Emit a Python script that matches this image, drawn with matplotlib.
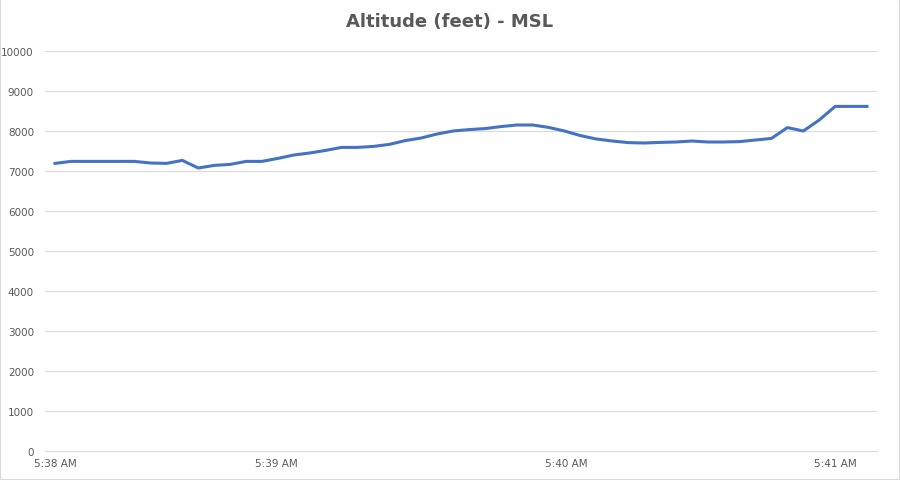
import matplotlib
matplotlib.use("Agg")
import matplotlib.pyplot as plt
from matplotlib.patches import Rectangle

altitude = [7190, 7240, 7240, 7240, 7240, 7240, 7200, 7190, 7265, 7075,
            7140, 7165, 7240, 7240, 7315, 7400, 7450, 7515, 7590, 7590,
            7615, 7665, 7760, 7825, 7925, 8000, 8035, 8060, 8110, 8150,
            8150, 8090, 8000, 7885, 7800, 7750, 7710, 7700, 7715, 7725,
            7750, 7725, 7725, 7735, 7775, 7815, 8085, 8000, 8275, 8615,
            8615, 8615]
tick_labels = ["5:38 AM", "5:39 AM", "5:40 AM", "5:41 AM"]
tick_pos = [0, 13.9, 32.1, 49.0]
yticks = list(range(0, 10001, 1000))

fig = plt.figure(figsize=(9, 4.81), dpi=100)
ax = fig.add_axes([45/900, 29/481, 832/900, 400/481])
x = list(range(len(altitude)))
ax.plot(x, altitude, color="#4472C4", lw=2.2, solid_joinstyle="round")
n = len(altitude) - 1
pad = n * 10 / 812
ax.set_xlim(-pad, n + pad)
ax.set_ylim(0, 10000)
ax.set_yticks(yticks)
ax.set_yticklabels([str(v) for v in yticks])
ax.set_xticks(tick_pos)
ax.set_xticklabels(tick_labels)
ax.grid(axis="y", color="#D9D9D9", lw=0.8)
ax.set_axisbelow(True)
for s in ["top", "right", "left"]:
    ax.spines[s].set_visible(False)
ax.spines["bottom"].set_color("#D9D9D9")
ax.tick_params(axis="both", length=0, labelsize=7.5, labelcolor="#595959")
ax.tick_params(axis="y", pad=8)
ax.tick_params(axis="x", pad=5)
fig.text(0.5, 1 - 22/481, "Altitude (feet) - MSL", ha="center", va="center",
         fontsize=13, fontweight="bold", color="#595959")
fig.patches.append(Rectangle((0, 0), 1, 1, transform=fig.transFigure, fill=False,
                             edgecolor="#D9D9D9", lw=1.5))
fig.savefig("out.png", dpi=100)
